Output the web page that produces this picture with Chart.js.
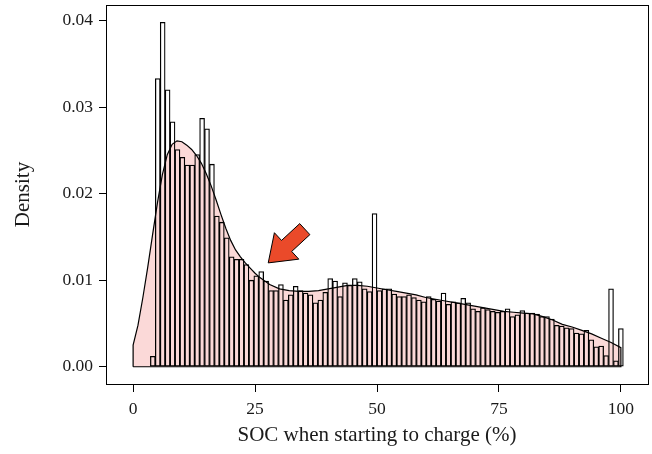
<!DOCTYPE html>
<html>
<head>
<meta charset="utf-8">
<script src="https://cdn.jsdelivr.net/npm/chart.js@4.4.0/dist/chart.umd.min.js"></script>
<style>
  html, body { margin: 0; padding: 0; background: #fff; }
  #wrap { width: 652px; height: 454px; }
</style>
</head>
<body>
<div id="wrap"><canvas id="socChart"></canvas></div>
<script>
// histogram: 100 bins, width 100/99, centred on 0, 1.01, ..., 100
const binWidth = 100 / 99;
const histDensity = [
  0, 0, 0, 0, 0.0012, 0.0333, 0.0398, 0.0320, 0.0283, 0.0251,
  0.0242, 0.0233, 0.0233, 0.0245, 0.0287, 0.0275, 0.0234, 0.0174, 0.0167, 0.0149,
  0.0127, 0.0124, 0.0124, 0.0118, 0.0100, 0.0105, 0.0110, 0.0099, 0.0088, 0.0088,
  0.0095, 0.0077, 0.0083, 0.0093, 0.0088, 0.0085, 0.0083, 0.0074, 0.0077, 0.0086,
  0.0102, 0.0099, 0.0081, 0.0097, 0.0094, 0.0102, 0.0098, 0.0090, 0.0087, 0.0177,
  0.0088, 0.0090, 0.0090, 0.0084, 0.0081, 0.0081, 0.0083, 0.0080, 0.0077, 0.0075,
  0.0081, 0.0078, 0.0076, 0.0085, 0.0072, 0.0075, 0.0074, 0.0079, 0.0074, 0.0067,
  0.0064, 0.0068, 0.0066, 0.0064, 0.0063, 0.0064, 0.0067, 0.0058, 0.0060, 0.0065,
  0.0062, 0.0062, 0.0061, 0.0058, 0.0058, 0.0055, 0.0048, 0.0047, 0.0045, 0.0044,
  0.0039, 0.0038, 0.0042, 0.0031, 0.0023, 0.0024, 0.0013, 0.0090, 0.0007, 0.0044
];

// kernel density estimate
const densX = [0, 1, 2, 3, 4, 5, 6, 7, 8, 9, 10, 11, 12, 13, 14, 15, 16, 17, 18, 19,
  20, 21, 22, 23, 24, 25, 26, 28, 30, 32, 34, 36, 38, 40, 42, 44, 46, 48, 50,
  52, 54, 56, 58, 60, 62, 64, 66, 68, 70, 72, 74, 76, 78, 80, 82, 84, 86, 88,
  90, 92, 94, 96, 98, 100];
const densY = [0.0025, 0.0048, 0.0080, 0.0115, 0.0153, 0.0190, 0.0222, 0.0245, 0.0257, 0.0261,
  0.0260, 0.0256, 0.0251, 0.0244, 0.0235, 0.0223, 0.0209, 0.0193, 0.0176, 0.0160,
  0.0146, 0.0135, 0.0127, 0.0120, 0.0114, 0.0108, 0.0103, 0.0095, 0.0090, 0.0088,
  0.0087, 0.0087, 0.0088, 0.0090, 0.0092, 0.0094, 0.0094, 0.0093, 0.0091,
  0.0089, 0.0087, 0.0085, 0.0083, 0.0080, 0.0078, 0.0076, 0.0074, 0.0072, 0.0070,
  0.0068, 0.0066, 0.0064, 0.0063, 0.0062, 0.0061, 0.0058, 0.0054, 0.0049,
  0.0046, 0.0042, 0.0038, 0.0033, 0.0028, 0.0022];

const xTicks = [0, 25, 50, 75, 100];
const yTicks = [0, 0.01, 0.02, 0.03, 0.04];

// red arrow (tip and tail, in data units)
const arrowTip = { x: 27.7, y: 0.0120 };
const arrowTail = { x: 35.2, y: 0.0159 };

const fontFamily = "'Liberation Serif', 'DejaVu Serif', serif";
const textColor = '#1a1a1a';

const histPoints = histDensity.map((v, i) => ({ x: i * binWidth, y: v }));
const densPoints = densX.map((x, i) => ({ x: x, y: densY[i] }));
// outline of the density polygon, closed along the baseline
const densOutline = [{ x: densX[0], y: 0 }]
  .concat(densPoints)
  .concat([{ x: densX[densX.length - 1], y: 0 }, { x: densX[0], y: 0 }]);

const boxPlugin = {
  id: 'panelBox',
  afterDraw(chart) {
    const { ctx, chartArea } = chart;
    ctx.save();
    ctx.strokeStyle = '#000';
    ctx.lineWidth = 1;
    ctx.strokeRect(Math.round(chartArea.left) + 0.5, Math.round(chartArea.top) + 0.5,
      Math.round(chartArea.right - chartArea.left), Math.round(chartArea.bottom - chartArea.top));
    ctx.restore();
  }
};

const arrowPlugin = {
  id: 'arrow',
  afterDatasetsDraw(chart) {
    const { ctx, scales } = chart;
    const tx = scales.x.getPixelForValue(arrowTip.x);
    const ty = scales.y.getPixelForValue(arrowTip.y);
    const ex = scales.x.getPixelForValue(arrowTail.x);
    const ey = scales.y.getPixelForValue(arrowTail.y);
    const len = Math.hypot(ex - tx, ey - ty);
    const ux = (ex - tx) / len, uy = (ey - ty) / len;
    const px = -uy, py = ux;
    const headLen = 25, headHalf = 18, shaftHalf = 7.5;
    const bx = tx + ux * headLen, by = ty + uy * headLen;
    ctx.save();
    ctx.beginPath();
    ctx.moveTo(tx, ty);
    ctx.lineTo(bx + px * headHalf, by + py * headHalf);
    ctx.lineTo(bx + px * shaftHalf, by + py * shaftHalf);
    ctx.lineTo(ex + px * shaftHalf, ey + py * shaftHalf);
    ctx.lineTo(ex - px * shaftHalf, ey - py * shaftHalf);
    ctx.lineTo(bx - px * shaftHalf, by - py * shaftHalf);
    ctx.lineTo(bx - px * headHalf, by - py * headHalf);
    ctx.closePath();
    ctx.fillStyle = '#EA4A2A';
    ctx.fill();
    ctx.strokeStyle = '#000';
    ctx.lineWidth = 1;
    ctx.lineJoin = 'miter';
    ctx.stroke();
    ctx.restore();
  }
};

new Chart(document.getElementById('socChart'), {
  type: 'bar',
  data: {
    datasets: [
      {
        type: 'line',
        data: densPoints,
        fill: 'origin',
        backgroundColor: '#FBD9D8',
        borderWidth: 0,
        pointRadius: 0,
        order: 3
      },
      {
        type: 'bar',
        data: histPoints,
        backgroundColor: 'rgba(0,0,0,0)',
        borderColor: '#000',
        borderWidth: 0.6,
        borderSkipped: false,
        barPercentage: 1,
        categoryPercentage: 1,
        order: 2
      },
      {
        type: 'line',
        data: densOutline,
        fill: false,
        borderColor: '#000',
        borderWidth: 1.2,
        pointRadius: 0,
        order: 1
      }
    ]
  },
  options: {
    responsive: true,
    maintainAspectRatio: false,
    animation: false,
    layout: { padding: { left: 0, right: 4, top: 5, bottom: 0 } },
    plugins: {
      legend: { display: false },
      tooltip: { enabled: false }
    },
    scales: {
      x: {
        type: 'linear',
        offset: false,
        min: -5.56,
        max: 105.56,
        afterBuildTicks: (scale) => { scale.ticks = xTicks.map(v => ({ value: v })); },
        afterFit: (scale) => { scale.height = 70; scale.paddingLeft = 0; scale.paddingRight = 0; },
        border: { display: false },
        grid: { drawOnChartArea: false, drawTicks: true, tickLength: 8, color: '#000', offset: false },
        ticks: {
          color: textColor,
          padding: 7,
          maxRotation: 0,
          font: { family: fontFamily, size: 17.5 }
        },
        title: {
          display: true,
          text: 'SOC when starting to charge (%)',
          color: textColor,
          font: { family: fontFamily, size: 21 },
          padding: { top: 0, bottom: 6 }
        }
      },
      y: {
        type: 'linear',
        min: -0.00199,
        max: 0.04179,
        afterBuildTicks: (scale) => { scale.ticks = yTicks.map(v => ({ value: v })); },
        afterFit: (scale) => { scale.width = 106; scale.paddingTop = 0; scale.paddingBottom = 0; },
        border: { display: false },
        grid: { drawOnChartArea: false, drawTicks: true, tickLength: 7, color: '#000' },
        ticks: {
          color: textColor,
          padding: 6,
          font: { family: fontFamily, size: 17.5 },
          callback: (v) => v.toFixed(2)
        },
        title: {
          display: true,
          text: 'Density',
          color: textColor,
          font: { family: fontFamily, size: 21 },
          padding: { top: 11, bottom: 0 }
        }
      }
    }
  },
  plugins: [boxPlugin, arrowPlugin]
});
</script>
</body>
</html>
